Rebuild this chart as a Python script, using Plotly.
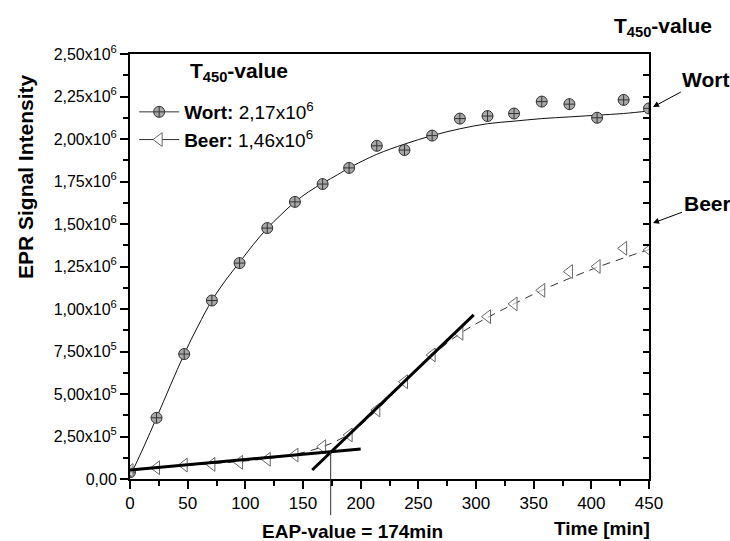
import plotly.graph_objects as go

# ---- data ----
time_pts = [0, 23, 47, 71, 95, 119, 143, 167, 190, 214, 238, 262, 286, 310, 333, 357, 381, 405, 428, 450]
wort_vals = [0.04e6, 0.36e6, 0.735e6, 1.05e6, 1.27e6, 1.476e6, 1.63e6, 1.735e6, 1.83e6, 1.96e6,
             1.935e6, 2.02e6, 2.12e6, 2.135e6, 2.15e6, 2.22e6, 2.205e6, 2.125e6, 2.23e6, 2.18e6]
beer_vals = [0.05e6, 0.066e6, 0.082e6, 0.086e6, 0.098e6, 0.116e6, 0.141e6, 0.19e6, 0.259e6, 0.406e6,
             0.572e6, 0.73e6, 0.857e6, 0.955e6, 1.03e6, 1.11e6, 1.22e6, 1.25e6, 1.357e6, 1.347e6]

wort_fit_t = [0, 12, 23, 35, 47, 59, 71, 83, 95, 107, 119, 131, 143, 155, 167, 180, 190, 214, 238, 262, 286, 310, 333, 357, 381, 405, 428, 450]
wort_fit_v = [0.015e6, 0.19e6, 0.36e6, 0.55e6, 0.735e6, 0.90e6, 1.05e6, 1.17e6, 1.275e6, 1.38e6, 1.475e6,
              1.555e6, 1.63e6, 1.69e6, 1.74e6, 1.79e6, 1.83e6, 1.91e6, 1.97e6, 2.02e6, 2.06e6, 2.09e6,
              2.105e6, 2.12e6, 2.13e6, 2.14e6, 2.15e6, 2.165e6]

beer_fit_t = [0, 23, 47, 71, 95, 119, 143, 167, 190, 214, 238, 262, 286, 310, 333, 357, 381, 405, 428, 450]
beer_fit_v = [0.05e6, 0.065e6, 0.078e6, 0.09e6, 0.103e6, 0.12e6, 0.145e6, 0.19e6, 0.265e6, 0.405e6,
              0.57e6, 0.725e6, 0.855e6, 0.95e6, 1.03e6, 1.11e6, 1.18e6, 1.245e6, 1.30e6, 1.35e6]

tan1_t = [0, 200]
tan1_v = [0.053e6, 0.176e6]
tan2_t = [158, 298]
tan2_v = [0.053e6, 0.965e6]

eap_value = 174
ytick_vals = [0, 2.5e5, 5e5, 7.5e5, 1e6, 1.25e6, 1.5e6, 1.75e6, 2e6, 2.25e6, 2.5e6]
ytick_text = ["0,00", "2,50x10<sup>5</sup>", "5,00x10<sup>5</sup>", "7,50x10<sup>5</sup>",
              "1,00x10<sup>6</sup>", "1,25x10<sup>6</sup>", "1,50x10<sup>6</sup>", "1,75x10<sup>6</sup>",
              "2,00x10<sup>6</sup>", "2,25x10<sup>6</sup>", "2,50x10<sup>6</sup>"]

FONT = "Liberation Sans, Arial, sans-serif"

fig = go.Figure()

# fits
fig.add_trace(go.Scatter(x=wort_fit_t, y=wort_fit_v, mode="lines", line=dict(color="#111", width=1, shape="spline"),
                         showlegend=False, hoverinfo="skip"))
fig.add_trace(go.Scatter(x=beer_fit_t, y=beer_fit_v, mode="lines",
                         line=dict(color="#333", width=1, dash="8px,6px", shape="spline"),
                         showlegend=False, hoverinfo="skip"))
# data
fig.add_trace(go.Scatter(x=time_pts, y=wort_vals, mode="markers",
                         marker=dict(symbol="circle-cross", size=11, color="#a8a8a8", line=dict(color="#333", width=1)),
                         showlegend=False))
fig.add_trace(go.Scatter(x=time_pts, y=beer_vals, mode="markers",
                         marker=dict(symbol="triangle-left", size=12, color="rgba(255,255,255,0.6)", line=dict(color="#666", width=1)),
                         showlegend=False))
# tangents
fig.add_trace(go.Scatter(x=tan1_t, y=tan1_v, mode="lines", line=dict(color="black", width=3), showlegend=False))
fig.add_trace(go.Scatter(x=tan2_t, y=tan2_v, mode="lines", line=dict(color="black", width=3), showlegend=False))

# legend entries
fig.add_trace(go.Scatter(x=[None], y=[None], mode="lines+markers", name="<b>Wort:</b> 2,17x10<sup>6</sup>",
                         line=dict(color="#333", width=1),
                         marker=dict(symbol="circle-cross", size=11, color="#a8a8a8", line=dict(color="#333", width=1))))
fig.add_trace(go.Scatter(x=[None], y=[None], mode="lines+markers", name="<b>Beer:</b> 1,46x10<sup>6</sup>",
                         line=dict(color="#333", width=1),
                         marker=dict(symbol="triangle-left", size=12, color="white", line=dict(color="#666", width=1))))
# dummy for right axis
fig.add_trace(go.Scatter(x=[None], y=[None], yaxis="y2", showlegend=False))

# EAP vertical line
fig.add_shape(type="line", xref="x", yref="paper", x0=eap_value, x1=eap_value,
              y0=0.16e6 / 2.5e6, y1=-0.085, line=dict(color="#333", width=1))

fig.update_layout(
    width=730, height=541,
    margin=dict(l=130, r=81, t=54, b=62),
    paper_bgcolor="white", plot_bgcolor="white",
    font=dict(family=FONT, color="black", size=16),
    xaxis=dict(range=[0, 450], tickvals=[0, 50, 100, 150, 200, 250, 300, 350, 400, 450],
               showgrid=False, zeroline=False, showline=True, linecolor="black", linewidth=2, mirror=True,
               ticks="outside", ticklen=8, tickwidth=2, tickcolor="black",
               minor=dict(ticks="outside", ticklen=5, tickwidth=2, tickcolor="black", dtick=25, showgrid=False),
               tickfont=dict(size=17)),
    yaxis=dict(range=[0, 2.5e6], tickvals=ytick_vals, ticktext=ytick_text,
               showgrid=False, zeroline=False, showline=True, linecolor="black", linewidth=2, mirror=True,
               ticks="outside", ticklen=8, tickwidth=2, tickcolor="black",
               minor=dict(ticks="outside", ticklen=5, tickwidth=2, tickcolor="black", dtick=1.25e5, showgrid=False),
               tickfont=dict(size=16)),
    yaxis2=dict(range=[0, 2.5e6], overlaying="y", side="right", showticklabels=False, showgrid=False,
                zeroline=False, showline=False, ticks="inside", ticklen=6, tickwidth=2, tickcolor="black",
                tick0=0, dtick=1.25e5),
    legend=dict(x=0.008, y=(479 - 93) / 425, xanchor="left", yanchor="top", bgcolor="rgba(0,0,0,0)",
                font=dict(size=19), itemwidth=40, tracegroupgap=0),
    showlegend=True,
    annotations=[
        dict(text="<b>T<sub>450</sub>-value</b>", xref="paper", yref="paper", x=(188 - 130) / 519,
             y=(479 - 72) / 425, showarrow=False, font=dict(size=21), xanchor="left", yanchor="middle"),
        dict(text="<b>EPR Signal Intensity</b>", xref="paper", yref="paper", x=(25 - 130) / 519,
             y=(479 - 177) / 425, textangle=-90, showarrow=False, font=dict(size=21),
             xanchor="center", yanchor="middle"),
        dict(text="<b>Time [min]</b>", xref="paper", yref="paper", x=(602 - 130) / 519, y=(479 - 528) / 425,
             showarrow=False, font=dict(size=19), xanchor="center", yanchor="middle"),
        dict(text="<b>EAP-value = 174min</b>", xref="paper", yref="paper", x=(352 - 130) / 519,
             y=(479 - 531) / 425, showarrow=False, font=dict(size=19), xanchor="center", yanchor="middle"),
        dict(text="<b>T<sub>450</sub>-value</b>", xref="paper", yref="paper", x=(663 - 130) / 519,
             y=(479 - 27) / 425, showarrow=False, font=dict(size=21), xanchor="center", yanchor="middle"),
        dict(text="<b>Wort</b>", xref="paper", yref="paper", x=(653 - 130) / 519, y=(479 - 107) / 425,
             ax=52, ay=-28, showarrow=True, arrowhead=2, arrowsize=1.2, arrowwidth=1, arrowcolor="black",
             font=dict(size=21)),
        dict(text="<b>Beer</b>", xref="paper", yref="paper", x=(653 - 130) / 519, y=(479 - 223) / 425,
             ax=54, ay=-20, showarrow=True, arrowhead=2, arrowsize=1.2, arrowwidth=1, arrowcolor="black",
             font=dict(size=21)),
    ],
)

fig.write_html("out.html")
